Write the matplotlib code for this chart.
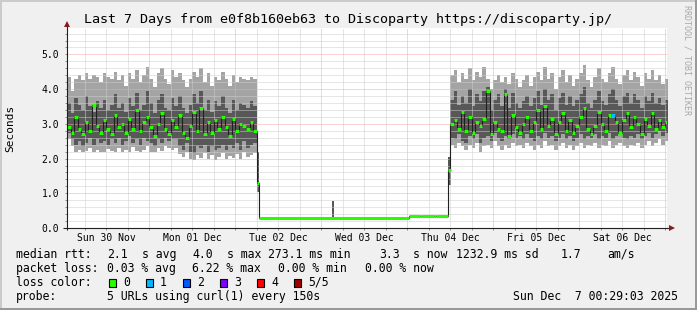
import numpy as np
import matplotlib.pyplot as plt
from matplotlib.patches import Rectangle
from matplotlib.ticker import MultipleLocator, FuncFormatter

plt.rcParams['font.family'] = 'DejaVu Sans Mono'

# x axis is hours since Sun 30 Nov 00:00, one smoke column per hour
day_labels = ['Sun 30 Nov', 'Mon 01 Dec', 'Tue 02 Dec', 'Wed 03 Dec',
              'Thu 04 Dec', 'Fri 05 Dec', 'Sat 06 Dec']

# busy stretch 1: Sun 30 Nov 01:00 -> Tue 02 Dec 06:00 (seconds)
a_start = 1
a_p1 = [2.55, 2.35, 2.20, 2.25, 2.18, 2.22, 2.30, 2.20, 2.25, 2.18,
        2.20, 2.28, 2.22, 2.18, 2.30, 2.20, 2.25, 2.20, 2.32, 2.22,
        2.20, 2.25, 2.35, 2.20, 2.18, 2.30, 2.22, 2.35, 2.30, 2.25,
        2.30, 2.12, 2.05, 2.20, 2.00, 1.95, 2.10, 2.02, 2.15, 1.98,
        2.10, 1.95, 2.05, 2.15, 2.00, 2.08, 2.02, 2.12, 1.98, 2.20,
        2.05, 2.10, 2.15]
a_p2 = [2.75, 2.55, 2.40, 2.50, 2.35, 2.45, 2.60, 2.40, 2.55, 2.45,
        2.50, 2.40, 2.55, 2.45, 2.60, 2.40, 2.50, 2.65, 2.45, 2.55,
        2.40, 2.60, 2.50, 2.45, 2.35, 2.55, 2.45, 2.60, 2.50, 2.55,
        2.55, 2.35, 2.25, 2.45, 2.20, 2.15, 2.35, 2.30, 2.40, 2.20,
        2.35, 2.25, 2.30, 2.40, 2.25, 2.40, 2.30, 2.45, 2.25, 2.50,
        2.30, 2.40, 2.45]
a_p4 = [3.60, 3.30, 3.75, 3.55, 3.40, 3.80, 3.50, 3.35, 3.65, 3.45,
        3.70, 3.40, 3.55, 3.85, 3.45, 3.60, 3.35, 3.75, 3.50, 3.90,
        3.40, 3.55, 3.95, 3.60, 3.30, 3.70, 3.85, 3.45, 3.40, 3.75,
        3.50, 3.80, 3.45, 3.30, 3.55, 3.85, 3.60, 3.95, 3.40, 3.70,
        3.35, 3.65, 3.50, 3.80, 3.45, 3.30, 3.70, 3.40, 3.60, 3.55,
        3.45, 3.65, 3.50]
a_p5 = [4.35, 3.95, 4.30, 4.40, 4.25, 4.45, 4.30, 4.40, 4.35, 4.20,
        4.45, 4.35, 4.30, 4.50, 4.25, 4.40, 4.10, 4.45, 4.30, 4.55,
        4.20, 4.40, 4.65, 4.30, 4.05, 4.45, 4.60, 4.30, 4.15, 4.55,
        4.35, 4.45, 4.25, 4.05, 4.30, 4.50, 4.35, 4.60, 4.20, 4.45,
        4.10, 4.35, 4.25, 4.50, 4.30, 4.10, 4.40, 4.20, 4.35, 4.30,
        4.25, 4.35, 4.30]
a_med = [2.90, 2.75, 3.20, 2.85, 2.70, 3.05, 2.80, 3.55, 2.95, 2.75,
         3.10, 2.85, 2.70, 3.25, 2.90, 3.00, 2.75, 3.15, 2.85, 3.40,
         2.80, 3.05, 3.20, 2.90, 2.65, 3.00, 3.30, 2.85, 2.70, 3.10,
         2.90, 3.25, 2.75, 2.60, 2.95, 3.35, 2.80, 3.45, 2.70, 3.05,
         2.75, 3.10, 2.85, 3.20, 2.90, 2.65, 3.15, 2.80, 3.00, 2.95,
         2.85, 3.05, 2.80]

# busy stretch 2: Thu 04 Dec 12:00 -> Sun 07 Dec 00:29
b_start = 108
b_p1 = [2.40, 2.30, 2.45, 2.35, 2.25, 2.40, 2.30, 2.45, 2.20, 2.35,
        2.40, 2.30, 2.50, 2.35, 2.25, 2.40, 2.30, 2.45, 2.35, 2.40,
        2.30, 2.45, 2.35, 2.25, 2.40, 2.30, 2.50, 2.35, 2.40, 2.25,
        2.35, 2.45, 2.30, 2.40, 2.25, 2.35, 2.45, 2.30, 2.40, 2.35,
        2.45, 2.30, 2.40, 2.35, 2.50, 2.30, 2.40, 2.45, 2.35, 2.30,
        2.40, 2.35, 2.45, 2.30, 2.40, 2.50, 2.35, 2.45, 2.55, 2.40,
        2.50]
b_p2 = [2.60, 2.55, 2.70, 2.50, 2.45, 2.65, 2.55, 2.70, 2.45, 2.60,
        2.65, 2.50, 2.75, 2.60, 2.50, 2.65, 2.55, 2.70, 2.60, 2.65,
        2.55, 2.70, 2.60, 2.50, 2.65, 2.55, 2.75, 2.60, 2.65, 2.50,
        2.60, 2.70, 2.55, 2.65, 2.50, 2.60, 2.70, 2.55, 2.65, 2.60,
        2.70, 2.55, 2.65, 2.60, 2.75, 2.55, 2.65, 2.70, 2.60, 2.55,
        2.65, 2.60, 2.70, 2.55, 2.65, 2.75, 2.60, 2.70, 2.80, 2.65,
        2.75]
b_p4 = [3.70, 3.95, 3.55, 3.80, 3.60, 4.00, 3.50, 3.85, 3.65, 3.95,
        4.05, 3.40, 3.70, 3.85, 3.50, 4.00, 3.45, 3.90, 3.60, 3.45,
        3.65, 3.80, 3.50, 3.75, 3.95, 3.55, 4.00, 3.70, 3.85, 3.40,
        3.75, 3.90, 3.55, 3.80, 3.50, 3.70, 3.85, 4.05, 3.60, 3.45,
        3.70, 3.95, 3.65, 3.55, 3.85, 4.00, 3.70, 3.50, 3.80, 3.90,
        3.60, 3.85, 3.70, 3.45, 3.80, 3.65, 3.90, 3.60, 3.75, 3.55,
        3.70]
b_p5 = [4.40, 4.55, 4.20, 4.45, 4.30, 4.60, 4.25, 4.50, 4.35, 4.65,
        4.30, 4.00, 4.25, 4.40, 4.20, 4.35, 4.15, 4.45, 4.30, 4.05,
        4.25, 4.40, 4.10, 4.35, 4.50, 4.25, 4.65, 4.30, 4.45, 4.00,
        4.35, 4.55, 4.20, 4.40, 4.10, 4.30, 4.45, 4.70, 4.25, 4.05,
        4.35, 4.60, 4.30, 4.20, 4.45, 4.65, 4.30, 4.15, 4.40, 4.55,
        4.25, 4.50, 4.35, 4.10, 4.45, 4.30, 4.55, 4.25, 4.40, 4.15,
        4.30]
b_med = [3.00, 3.10, 2.85, 3.35, 2.80, 3.20, 2.75, 3.05, 2.95, 3.15,
         3.95, 2.70, 3.05, 2.85, 2.80, 3.85, 2.65, 3.25, 2.90, 2.75,
         3.00, 3.20, 2.80, 3.05, 3.40, 2.85, 3.50, 2.95, 3.15, 2.70,
         3.05, 3.30, 2.80, 3.10, 2.75, 2.95, 3.20, 3.45, 2.85, 2.70,
         2.95, 3.35, 3.00, 2.80, 3.25, 3.25, 3.05, 2.75, 3.10, 3.30,
         2.90, 3.20, 3.00, 2.70, 3.15, 2.95, 3.30, 2.85, 3.10, 2.90,
         3.05]
b_loss1_hours = [153]  # the one step with 1 lost probe

# ramp columns at the two edges of the quiet stretch
ramp_hours = [54.0, 107.5]
ramp_p1 = [1.05, 1.24]
ramp_p5 = [2.20, 2.05]
ramp_med = [1.30, 1.67]

# quiet stretch: Tue 02 Dec 06:40 -> Thu 04 Dec 11:30
flat_t = [54.7, 96.6, 99.5, 100.0, 103.6, 104.1]
flat_v = [0.28, 0.355, 0.34, 0.355, 0.345, 0.355]
flat_end = 107.5
spike_hour = [75.0]
spike_top = [0.79]

loss_labels = ['0', '1', '2', '3', '4', '5/5']
loss_colors = ['#26ff00', '#00b8ff', '#0059ff', '#7e00ff', '#ff0000', '#a10000']

LIGHT = '#a4a4a4'
DARK = '#585858'
GRID = '#cfcfcf'
MGRID = '#f0a8a8'

fig = plt.figure(figsize=(6.97, 3.10), dpi=100, facecolor='#f0f0f0')
W, H = 697, 310
ax = fig.add_axes([67 / W, (H - 228) / H, (666.8 - 67) / W, 200 / H])
ax.set_facecolor('white')


def smoke(start, p1, p2, p4, p5):
    x = start + np.arange(len(p1) + 1)
    ax.fill_between(x, p1 + p1[-1:], p5 + p5[-1:], step='post', color=LIGHT, lw=0, zorder=1)
    ax.fill_between(x, p2 + p2[-1:], p4 + p4[-1:], step='post', color=DARK, lw=0, zorder=1.1)
    return x


xa = smoke(a_start, a_p1, a_p2, a_p4, a_p5)
xb = smoke(b_start, b_p1, b_p2, b_p4, b_p5)
ax.bar(ramp_hours, np.subtract(ramp_p5, ramp_p1), bottom=ramp_p1, width=0.6,
       align='edge', color=DARK, lw=0, zorder=1.1)
ax.bar(spike_hour, np.subtract(spike_top, flat_v[0]), bottom=flat_v[0], width=0.55,
       align='edge', color=DARK, lw=0, zorder=1.1)

# dark median step line through everything
med_x = list(xa[:-1]) + [ramp_hours[0]] + flat_t + [ramp_hours[1]] + list(xb)
med_y = a_med + [ramp_med[0]] + flat_v + [ramp_med[1]] + b_med + b_med[-1:]
ax.step(med_x, med_y, where='post', color='#202020', lw=0.8, zorder=3)

# loss-coloured median marks
b_cols = [loss_colors[1] if h in b_loss1_hours else loss_colors[0] for h in xb[:-1]]
ax.hlines(a_med, xa[:-1], xa[1:], color=loss_colors[0], lw=2.2, zorder=4)
ax.hlines(b_med, xb[:-1], xb[1:], color=b_cols, lw=2.2, zorder=4)
ax.hlines(ramp_med, ramp_hours, np.add(ramp_hours, 0.6), color=loss_colors[0], lw=2.2, zorder=4)
ax.hlines(flat_v, flat_t, flat_t[1:] + [flat_end], color=loss_colors[0], lw=2.2, zorder=4)

ax.set_xlim(1, 168.5)
ax.set_ylim(0, 5.76)
for s in ax.spines.values():
    s.set_visible(False)

ax.xaxis.set_major_locator(MultipleLocator(24))
ax.xaxis.set_minor_locator(MultipleLocator(6))
ax.xaxis.set_major_formatter(FuncFormatter(lambda v, p: ''))
ax.xaxis.set_minor_formatter(FuncFormatter(
    lambda v, p: day_labels[int(v // 24)] if v % 24 == 12 and 0 <= v // 24 < 7 else ''))
ax.yaxis.set_major_locator(MultipleLocator(1))
ax.yaxis.set_minor_locator(MultipleLocator(0.2))
ax.yaxis.set_major_formatter(FuncFormatter(lambda v, p: '%.1f' % v))
ax.grid(which='major', color=MGRID, lw=0.72, ls=(0, (1, 1)))
ax.grid(which='minor', color=GRID, lw=0.72, ls=(0, (1, 1)))
ax.set_axisbelow(False)
ax.tick_params(which='both', direction='out', length=1.5, width=0.72, colors='#909090')
ax.tick_params(axis='y', which='major', labelsize=7, labelcolor='black', pad=4.1)
ax.tick_params(axis='x', which='minor', labelsize=7, labelcolor='black', pad=2.2)

# overlay in pixel coordinates for frame, axes arrows and legend
ov = fig.add_axes([0, 0, 1, 1], zorder=5)
ov.set_xlim(0, W)
ov.set_ylim(H, 0)
ov.axis('off')
ov.patch.set_alpha(0)

ov.add_patch(Rectangle((0, 0), W, 2, color='#cbcbcb', lw=0))
ov.add_patch(Rectangle((0, 0), 2, H, color='#cbcbcb', lw=0))
ov.add_patch(Rectangle((0, H - 2), W, 2, color='#999999', lw=0))
ov.add_patch(Rectangle((W - 2, 0), 2, H, color='#999999', lw=0))

ov.plot([67, 67], [230, 24], color='#202020', lw=0.8, solid_capstyle='butt')
ov.plot([63, 670], [228, 228], color='#202020', lw=0.8, solid_capstyle='butt')
ov.plot([67], [23.5], marker='^', ms=4, color='#8b1a1a', mew=0)
ov.plot([671.5], [228], marker='>', ms=4, color='#8b1a1a', mew=0)

ov.text(348.5, 23.5, 'Last 7 Days from e0f8b160eb63 to Discoparty https://discoparty.jp/',
        ha='center', va='baseline', fontsize=9.6)
ov.text(10, 128, 'Seconds', rotation=90, ha='center', va='center', fontsize=8)
ov.text(687, 5, 'RRDTOOL / TOBI OETIKER', rotation=270, ha='center', va='top',
        fontsize=6, color='#a8a8a8')

fs = 8.3
rows = [
    (257.7, [(16, 'median rtt:'), (107, '2.1'), (142.5, 's avg'), (192, '4.0'),
             (227, 's max'), (268, '273.1 ms min'), (379.5, '3.3'), (413, 's now'),
             (455.5, '1232.9 ms sd'), (561, '1.7'), (607, 'am/s')]),
    (271.7, [(16, 'packet loss:'), (107, '0.03 % avg'), (192, '6.22 % max'),
             (278.5, '0.00 % min'), (365, '0.00 % now')]),
    (285.7, [(16, 'loss color:')]),
    (299.7, [(16, 'probe:'), (107, '5 URLs using curl(1) every 150s'),
             (513, 'Sun Dec  7 00:29:03 2025')]),
]
for y, parts in rows:
    for x, s in parts:
        ov.text(x, y, s, ha='left', va='baseline', fontsize=fs)

for i, (lab, col) in enumerate(zip(loss_labels, loss_colors)):
    bx = 108.5 + 37 * i
    ov.add_patch(Rectangle((bx, 278.5), 7.5, 8, facecolor=col, edgecolor='black', lw=0.8))
    ov.text(bx + 14.5, 285.7, lab, ha='left', va='baseline', fontsize=fs)

fig.savefig('out.png', dpi=100, facecolor=fig.get_facecolor())
